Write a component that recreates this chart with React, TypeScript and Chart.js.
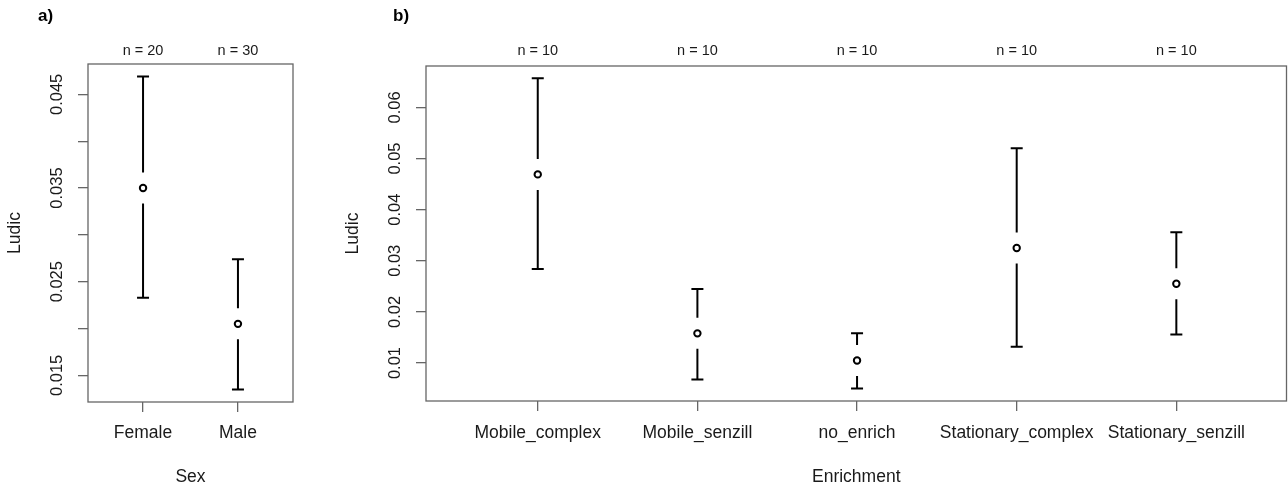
import React, { useEffect, useRef } from 'react';
import { Chart, registerables } from 'chart.js';

Chart.register(...registerables);

// ---------- Panel a) : Sex ----------
const sexCategories = ['Female', 'Male'];
const sexMeans = [0.035, 0.0205];
const sexLower = [0.0233, 0.0135];
const sexUpper = [0.0469, 0.0274];
const sexCounts = [20, 30];
const sexYTicks = [0.015, 0.02, 0.025, 0.03, 0.035, 0.04, 0.045];
const sexYTickLabels = ['0.015', '', '0.025', '', '0.035', '', '0.045'];

// ---------- Panel b) : Enrichment ----------
const enrichCategories = ['Mobile_complex', 'Mobile_senzill', 'no_enrich', 'Stationary_complex', 'Stationary_senzill'];
const enrichMeans = [0.0469, 0.0158, 0.0105, 0.0325, 0.0255];
const enrichLower = [0.0284, 0.0068, 0.005, 0.0132, 0.0156];
const enrichUpper = [0.0657, 0.0245, 0.0158, 0.052, 0.0356];
const enrichCounts = [10, 10, 10, 10, 10];
const enrichYTicks = [0.01, 0.02, 0.03, 0.04, 0.05, 0.06];
const enrichYTickLabels = ['0.01', '0.02', '0.03', '0.04', '0.05', '0.06'];

const FONT = '"Liberation Sans", Arial, sans-serif';
const TEXT = '#1a1a1a';
const FRAME = '#666666';

type Spec = {
  categories: string[];
  means: number[];
  lower: number[];
  upper: number[];
  counts: number[];
  yTicks: number[];
  yTickLabels: string[];
  xMin: number;
  xMax: number;
  yMin: number;
  yMax: number;
  padding: { left: number; right: number; top: number; bottom: number };
  xTitle: string;
  yTitle: string;
  panelLabel: string;
  panelLabelX: number;
};

function makeChart(canvas: HTMLCanvasElement, s: Spec) {
  const plugin = {
    id: 'rPlotmeans',
    beforeDatasetsDraw(chart: any) {
      const ctx = chart.ctx;
      const { left, right, top, bottom } = chart.chartArea;
      const xs = chart.scales.x;
      const ys = chart.scales.y;
      ctx.save();
      // frame
      ctx.strokeStyle = FRAME;
      ctx.lineWidth = 1.3;
      ctx.strokeRect(left, top, right - left, bottom - top);
      // error bars with gap around the mean
      ctx.strokeStyle = '#000';
      ctx.lineWidth = 2;
      ctx.lineCap = 'butt';
      const gap = 15.5;
      const cap = 6;
      s.categories.forEach((_, i) => {
        const px = xs.getPixelForValue(i + 1);
        const pm = ys.getPixelForValue(s.means[i]);
        const pu = ys.getPixelForValue(s.upper[i]);
        const pl = ys.getPixelForValue(s.lower[i]);
        ctx.beginPath();
        if (pm - gap > pu) {
          ctx.moveTo(px, pu);
          ctx.lineTo(px, pm - gap);
        }
        if (pm + gap < pl) {
          ctx.moveTo(px, pm + gap);
          ctx.lineTo(px, pl);
        }
        ctx.moveTo(px - cap, pu);
        ctx.lineTo(px + cap, pu);
        ctx.moveTo(px - cap, pl);
        ctx.lineTo(px + cap, pl);
        ctx.stroke();
      });
      ctx.restore();
    },
    afterDraw(chart: any) {
      const ctx = chart.ctx;
      const { left, right, top, bottom } = chart.chartArea;
      const xs = chart.scales.x;
      const ys = chart.scales.y;
      ctx.save();
      ctx.fillStyle = TEXT;
      // y tick labels (rotated, R style)
      ctx.font = `16.5px ${FONT}`;
      s.yTicks.forEach((v, i) => {
        const lab = s.yTickLabels[i];
        if (!lab) return;
        const py = ys.getPixelForValue(v);
        ctx.save();
        ctx.translate(left - 31, py);
        ctx.rotate(-Math.PI / 2);
        ctx.textAlign = 'center';
        ctx.textBaseline = 'middle';
        ctx.fillText(lab, 0, 0);
        ctx.restore();
      });
      // x tick labels
      ctx.font = `17.5px ${FONT}`;
      ctx.textAlign = 'center';
      ctx.textBaseline = 'middle';
      s.categories.forEach((c, i) => {
        ctx.fillText(c, xs.getPixelForValue(i + 1), 433);
      });
      // n = labels on top
      ctx.font = `14.5px ${FONT}`;
      s.counts.forEach((n, i) => {
        ctx.fillText(`n = ${n}`, xs.getPixelForValue(i + 1), 51);
      });
      // axis titles
      ctx.font = `17.5px ${FONT}`;
      ctx.fillText(s.xTitle, (left + right) / 2, 477);
      ctx.save();
      ctx.translate(left - 73, (top + bottom) / 2);
      ctx.rotate(-Math.PI / 2);
      ctx.fillText(s.yTitle, 0, 0);
      ctx.restore();
      // panel label
      ctx.font = `bold 17px ${FONT}`;
      ctx.textAlign = 'left';
      ctx.fillStyle = '#000';
      ctx.fillText(s.panelLabel, s.panelLabelX, 16);
      ctx.restore();
    },
  };

  return new Chart(canvas, {
    type: 'scatter',
    data: {
      datasets: [
        {
          data: s.means.map((m, i) => ({ x: i + 1, y: m })),
          pointStyle: 'circle',
          pointRadius: 3.2,
          pointBorderWidth: 2,
          pointBorderColor: '#000',
          pointBackgroundColor: '#fff',
          showLine: false,
        },
      ],
    },
    options: {
      responsive: false,
      animation: false,
      devicePixelRatio: 1,
      layout: { padding: s.padding, autoPadding: false },
      plugins: {
        legend: { display: false },
        tooltip: { enabled: false },
        title: { display: false },
      },
      scales: {
        x: {
          type: 'linear',
          position: 'bottom',
          min: s.xMin,
          max: s.xMax,
          afterBuildTicks: (scale: any) => {
            scale.ticks = s.categories.map((_, i) => ({ value: i + 1 }));
          },
          afterFit: (scale: any) => {
            scale.height = 10;
          },
          ticks: { display: false },
          grid: {
            display: true,
            drawOnChartArea: false,
            drawTicks: true,
            tickLength: 10,
            color: FRAME,
            lineWidth: 1.3,
          },
          border: { display: false },
        },
        y: {
          type: 'linear',
          position: 'left',
          min: s.yMin,
          max: s.yMax,
          afterBuildTicks: (scale: any) => {
            scale.ticks = s.yTicks.map((v) => ({ value: v }));
          },
          afterFit: (scale: any) => {
            scale.width = 10;
          },
          ticks: { display: false },
          grid: {
            display: true,
            drawOnChartArea: false,
            drawTicks: true,
            tickLength: 10,
            color: FRAME,
            lineWidth: 1.3,
          },
          border: { display: false },
        },
      },
    },
    plugins: [plugin],
  } as any);
}

export default function App() {
  const refA = useRef<HTMLCanvasElement | null>(null);
  const refB = useRef<HTMLCanvasElement | null>(null);

  useEffect(() => {
    document.body.style.margin = '0';
    const a = makeChart(refA.current!, {
      categories: sexCategories,
      means: sexMeans,
      lower: sexLower,
      upper: sexUpper,
      counts: sexCounts,
      yTicks: sexYTicks,
      yTickLabels: sexYTickLabels,
      xMin: 0.42,
      xMax: 2.58,
      yMin: 0.01216,
      yMax: 0.04824,
      padding: { left: 78, right: 37, top: 64, bottom: 78 },
      xTitle: 'Sex',
      yTitle: 'Ludic',
      panelLabel: 'a)',
      panelLabelX: 38,
    });
    const b = makeChart(refB.current!, {
      categories: enrichCategories,
      means: enrichMeans,
      lower: enrichLower,
      upper: enrichUpper,
      counts: enrichCounts,
      yTicks: enrichYTicks,
      yTickLabels: enrichYTickLabels,
      xMin: 0.3,
      xMax: 5.69,
      yMin: 0.00257,
      yMax: 0.0681,
      padding: { left: 86, right: 1.5, top: 66, bottom: 79 },
      xTitle: 'Enrichment',
      yTitle: 'Ludic',
      panelLabel: 'b)',
      panelLabelX: 63,
    });
    return () => {
      a.destroy();
      b.destroy();
    };
  }, []);

  return (
    <div style={{ position: 'fixed', left: 0, top: 0, width: 1288, height: 490, background: '#fff' }}>
      <canvas ref={refA} width={330} height={490} style={{ position: 'absolute', left: 0, top: 0, width: 330, height: 490 }} />
      <canvas ref={refB} width={958} height={490} style={{ position: 'absolute', left: 330, top: 0, width: 958, height: 490 }} />
    </div>
  );
}
